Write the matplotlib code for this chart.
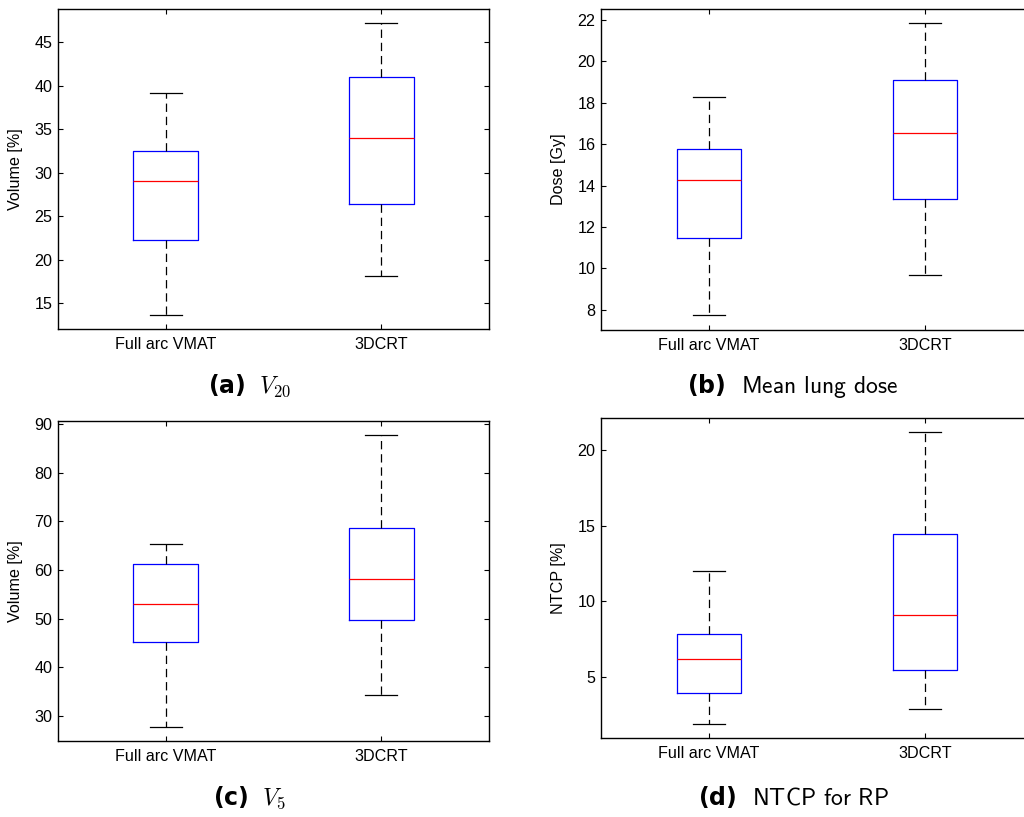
import matplotlib
matplotlib.use("Agg")
import matplotlib.pyplot as plt

plt.rcParams['font.family'] = ['Liberation Sans', 'DejaVu Sans']
plt.rcParams['mathtext.fontset'] = 'custom'
plt.rcParams['mathtext.it'] = 'cmmi10'
plt.rcParams['mathtext.rm'] = 'cmr10'
plt.rcParams['mathtext.bf'] = 'DejaVu Sans:bold'
plt.rcParams['lines.scale_dashes'] = False

categories = ["Full arc VMAT", "3DCRT"]

# [lower whisker, Q1, median, Q3, upper whisker] per category
v20_vmat = [13.7, 22.3, 29.0, 32.5, 39.1]
v20_3dcrt = [18.1, 26.45, 34.0, 41.0, 47.2]
mld_vmat = [7.76, 11.49, 14.27, 15.79, 18.27]
mld_3dcrt = [9.67, 13.34, 16.53, 19.09, 21.84]
v5_vmat = [27.74, 45.1, 52.95, 61.3, 65.28]
v5_3dcrt = [34.31, 49.73, 58.22, 68.57, 87.67]
ntcp_vmat = [1.89, 3.94, 6.15, 7.8, 11.99]
ntcp_3dcrt = [2.86, 5.44, 9.06, 14.46, 21.2]

ylabels = ["Volume [%]", "Dose [Gy]", "Volume [%]", "NTCP [%]"]
captions = [r"$\mathbf{(a)}\ \ V_{20}$", r"$\mathbf{(b)}$  Mean lung dose",
            r"$\mathbf{(c)}\ \ V_{5}$", r"$\mathbf{(d)}$  NTCP for RP"]
ylims = [(12.05, 48.8), (7.03, 22.53), (24.86, 90.6), (0.94, 22.12)]
yticks = [[15, 20, 25, 30, 35, 40, 45], [8, 10, 12, 14, 16, 18, 20, 22],
          [30, 40, 50, 60, 70, 80, 90], [5, 10, 15, 20]]
data = [(v20_vmat, v20_3dcrt), (mld_vmat, mld_3dcrt), (v5_vmat, v5_3dcrt), (ntcp_vmat, ntcp_3dcrt)]

W, H = 1024, 817
# axes pixel boxes: left, top, right, bottom
boxes = [(58, 9, 489, 329), (601, 9, 1033, 330), (58, 421, 489, 741), (601, 418, 1033, 738)]
caption_pos = [(249, 386), (793, 386), (249, 798), (793, 797)]

fig = plt.figure(figsize=(W / 100, H / 100), dpi=100)

for i in range(4):
    l, t, r, b = boxes[i]
    ax = fig.add_axes([l / W, 1 - b / H, (r - l) / W, (b - t) / H])
    stats = []
    for name, vals in zip(categories, data[i]):
        stats.append(dict(whislo=vals[0], q1=vals[1], med=vals[2], q3=vals[3], whishi=vals[4],
                          fliers=[], label=name))
    ax.bxp(stats, positions=[1, 2], widths=0.3, capwidths=0.15, showfliers=False,
           boxprops=dict(color='#0000ff', linewidth=0.9),
           medianprops=dict(color='#ff0000', linewidth=0.9),
           whiskerprops=dict(color='black', linewidth=0.9, linestyle=(0, (6, 3.5))),
           capprops=dict(color='black', linewidth=0.9))
    ax.set_xlim(0.5, 2.5)
    ax.set_ylim(*ylims[i])
    ax.set_yticks(yticks[i])
    ax.set_xticks([1, 2])
    ax.set_xticklabels(categories)
    ax.tick_params(direction='in', length=3.6, width=0.8, labelsize=11.6, top=True, right=True, pad=4)
    ax.tick_params(axis='x', pad=6)
    for s in ax.spines.values():
        s.set_linewidth(1.0)
    ax.set_ylabel(ylabels[i], fontsize=11.6)
    ax.yaxis.set_label_coords(-35 / (r - l), 0.5)
    cx, cy = caption_pos[i]
    fig.text(cx / W, 1 - cy / H, captions[i], ha='center', va='center', fontsize=17, family='cmss10')

fig.savefig("out.png", dpi=100)
